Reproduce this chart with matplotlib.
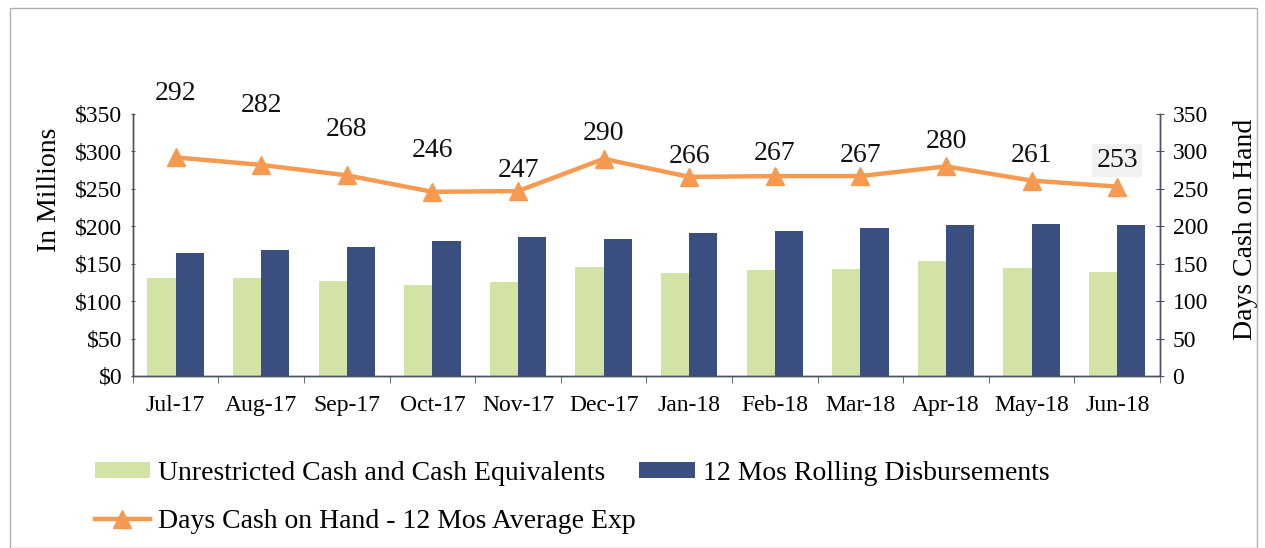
import matplotlib

matplotlib.use("Agg")

import matplotlib.pyplot as plt
import numpy as np
from matplotlib.patches import Rectangle

months = ["Jul-17", "Aug-17", "Sep-17", "Oct-17", "Nov-17", "Dec-17",
          "Jan-18", "Feb-18", "Mar-18", "Apr-18", "May-18", "Jun-18"]
unrestricted_cash = [131, 131, 127, 121, 125, 146, 138, 142, 143, 154, 144, 139]
rolling_disb = [164, 168, 172, 180, 186, 183, 191, 194, 198, 202, 203, 202]
days_cash = [292, 282, 268, 246, 247, 290, 266, 267, 267, 280, 261, 253]
# vertical offset (points) of each value label above its marker
label_offsets = [37, 34, 24, 21, 6, 9, 6, 7, 6, 9, 9, 10]

plt.rcParams["font.family"] = ["Liberation Serif", "DejaVu Serif"]

GREEN = "#d3e3a6"
NAVY = "#3a4e80"
ORANGE = "#f59a50"

fig = plt.figure(figsize=(12.65, 5.48), dpi=100)
ax = fig.add_axes([0.105, 0.314, 0.812, 0.478])
ax2 = ax.twinx()

x = np.arange(len(months))
w = 0.33
b1 = ax.bar(x - w / 2, unrestricted_cash, width=w, color=GREEN, label="Unrestricted Cash and Cash Equivalents")
b2 = ax.bar(x + w / 2, rolling_disb, width=w, color=NAVY, label="12 Mos Rolling Disbursements")
ln, = ax2.plot(x, days_cash, color=ORANGE, linewidth=3.2, marker="^", markersize=13,
               label="Days Cash on Hand - 12 Mos Average Exp", zorder=5)

for i, (xi, v) in enumerate(zip(x, days_cash)):
    kw = {}
    if i == len(days_cash) - 1:
        kw["bbox"] = dict(facecolor="#f1f1f3", edgecolor="none", pad=3)
    ax2.annotate(str(v), (xi, v), textcoords="offset points", xytext=(0, label_offsets[i]),
                 ha="center", va="bottom", fontsize=20, color="#111111",
                 annotation_clip=False, **kw)

ax.set_xlim(-0.5, len(months) - 0.5)
ax.set_ylim(0, 350)
ax2.set_ylim(0, 350)
ax.set_yticks(range(0, 351, 50))
ax.set_yticklabels([f"${v}" for v in range(0, 351, 50)], fontsize=17)
ax2.set_yticks(range(0, 351, 50))
ax2.set_yticklabels([str(v) for v in range(0, 351, 50)], fontsize=17)
ax.set_xticks(x)
ax.set_xticklabels(months, fontsize=17)
ax.tick_params(axis="x", which="major", length=0, pad=14)
ax.set_xticks(np.arange(-0.5, len(months)), minor=True)
ax.tick_params(axis="x", which="minor", length=5, color="#555555")
ax.tick_params(axis="y", length=3, color="#555555", direction="inout", pad=6)
ax2.tick_params(axis="y", length=6, color="#555555", direction="inout", pad=6)

for a in (ax, ax2):
    a.spines["top"].set_visible(False)
    for s in ("left", "right", "bottom"):
        a.spines[s].set_color("#4a5068")
        a.spines[s].set_linewidth(1.0)

ax.set_ylabel("In Millions", fontsize=20)
ax2.set_ylabel("Days Cash on Hand", fontsize=20)
ax.yaxis.set_label_coords(-0.069, 0.71)
ax2.yaxis.set_label_coords(1.071, 0.56)

fig.legend([b1, ln, b2], [b1.get_label(), ln.get_label(), b2.get_label()],
           ncol=2, loc="lower left", bbox_to_anchor=(0.055, -0.02), frameon=False,
           fontsize=20, handlelength=2.0, handleheight=0.5, columnspacing=0.1,
           labelspacing=0.84, handletextpad=0.3)

fig.add_artist(Rectangle((0.008, 0.0), 0.986, 0.985, transform=fig.transFigure,
                         fill=False, edgecolor="#b0b0b0", linewidth=1.0))

fig.savefig("out.png", dpi=100)
